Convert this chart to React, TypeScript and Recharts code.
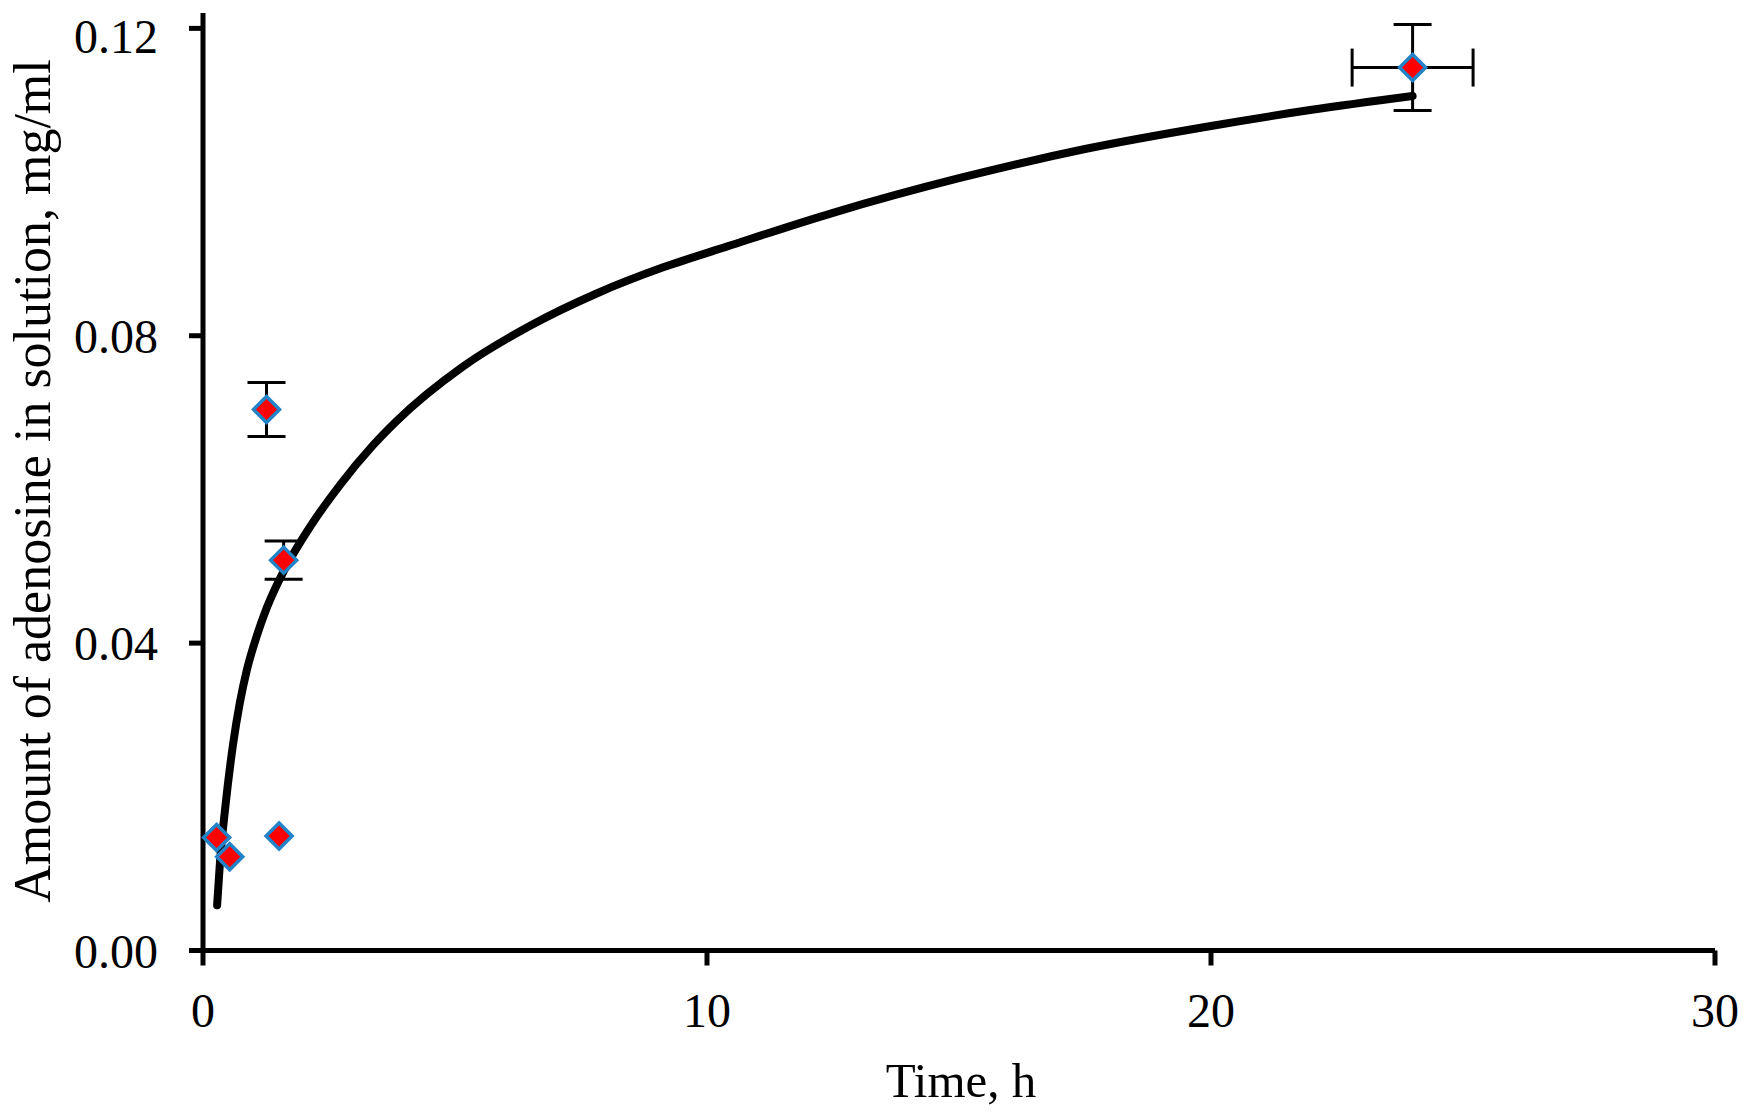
import React from "react"
import { ComposedChart, Scatter, Line, XAxis, YAxis, ErrorBar, Label } from "recharts"

// measured points (time, h / amount, mg/ml) with error half-widths
const times = [0.27, 0.53, 1.26, 1.6, 1.51, 24]
const amounts = [0.0147, 0.0122, 0.0704, 0.0508, 0.0149, 0.1149]
const timeErr = [0, 0, 0, 0, 0, 1.2]
const amountErr = [0, 0, 0.0035, 0.0025, 0, 0.0056]

// trend curve
const fitTimes = [0.28, 0.34, 0.44, 0.6, 0.73, 0.87, 1.07, 1.26, 1.46, 1.66, 2.12, 2.72, 3.38, 3.84, 5.16, 6.49, 7.81, 9.13, 10.39, 12.5, 15, 17.5, 20, 22, 24]
const fitValues = [0.0059, 0.0118, 0.0185, 0.027, 0.0322, 0.0365, 0.041, 0.0445, 0.0475, 0.0501, 0.0551, 0.0606, 0.0658, 0.0689, 0.076, 0.0813, 0.0855, 0.0889, 0.0916, 0.096, 0.1005, 0.1043, 0.1073, 0.1094, 0.1112]

const xTicks = [0, 10, 20, 30]
const yTicks = [0, 0.04, 0.08, 0.12]

const points = times.map((t, i) => ({ t, c: amounts[i], ex: timeErr[i], ey: amountErr[i] }))
const fit = fitTimes.map((t, i) => ({ t, fit: fitValues[i] }))

const FONT = "'Liberation Serif', 'Times New Roman', serif"
const tickStyle = { fontSize: 48, fill: "#000", fontFamily: FONT }

function Diamond(props: any) {
  const { cx, cy } = props
  const r = 13
  return (
    <polygon
      points={`${cx},${cy - r} ${cx + r},${cy} ${cx},${cy + r} ${cx - r},${cy}`}
      fill="#ff0000"
      stroke="#2283c8"
      strokeWidth={3.5}
    />
  )
}

export default function App() {
  return (
    <ComposedChart
      width={1740}
      height={1100}
      margin={{ top: 5, right: 33, left: 95, bottom: 97.5 }}
    >
      <XAxis
        type="number"
        dataKey="t"
        domain={[0, 30]}
        ticks={xTicks}
        height={60}
        tickSize={15}
        tickMargin={27}
        tick={tickStyle}
        axisLine={{ stroke: "#000", strokeWidth: 5 }}
        tickLine={{ stroke: "#000", strokeWidth: 5 }}
      >
        <Label
          content={() => (
            <text x={953} y={1089} textAnchor="middle" fontSize={49} fontFamily={FONT} fill="#000">
              Time, h
            </text>
          )}
        />
      </XAxis>
      <YAxis
        type="number"
        domain={[0, 0.122]}
        ticks={yTicks}
        width={100}
        tickSize={14}
        tickMargin={31}
        tick={tickStyle}
        tickFormatter={(v: number) => v.toFixed(2)}
        axisLine={{ stroke: "#000", strokeWidth: 5 }}
        tickLine={{ stroke: "#000", strokeWidth: 5 }}
      >
        <Label
          content={() => (
            <text
              x={42}
              y={473}
              transform="rotate(-90, 42, 473)"
              textAnchor="middle"
              fontSize={52}
              fontFamily={FONT}
              fill="#000"
            >
              Amount of adenosine in solution, mg/ml
            </text>
          )}
        />
      </YAxis>
      <Scatter data={points} dataKey="c" shape={Diamond} isAnimationActive={false}>
        <ErrorBar dataKey="ey" direction="y" width={19} stroke="#000" strokeWidth={3} />
        <ErrorBar dataKey="ex" direction="x" width={19} stroke="#000" strokeWidth={3} />
      </Scatter>
      <Line
        data={fit}
        dataKey="fit"
        type="monotone"
        stroke="#000"
        strokeWidth={8}
        strokeLinecap="round"
        dot={false}
        activeDot={false}
        isAnimationActive={false}
      />
    </ComposedChart>
  )
}
